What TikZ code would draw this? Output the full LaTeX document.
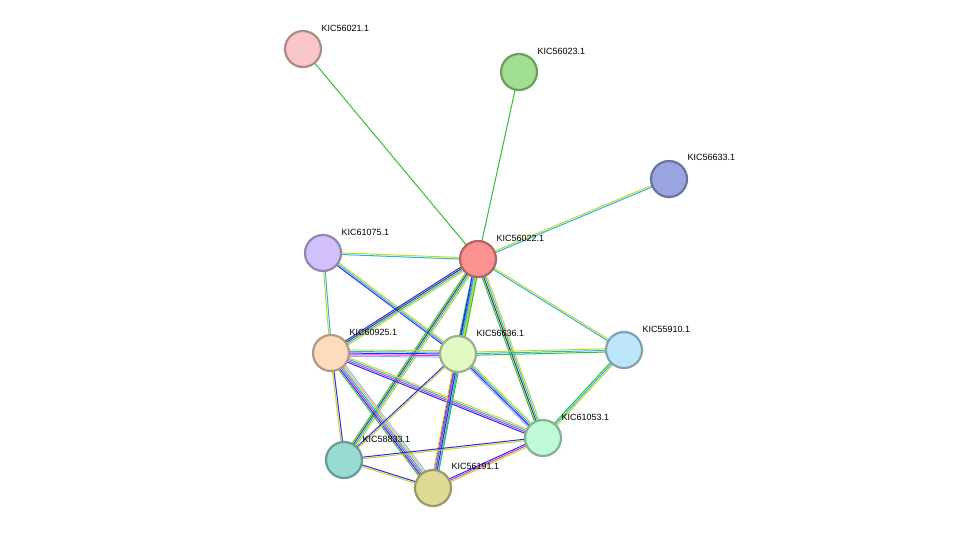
\documentclass[tikz,border=0pt]{standalone}
\usepackage{fontspec}
\setmainfont{Liberation Sans}
\usetikzlibrary{calc,backgrounds}
\definecolor{tm}{RGB}{195,215,40}
\definecolor{db}{RGB}{40,180,225}
\definecolor{co}{RGB}{40,40,240}
\definecolor{ex}{RGB}{215,50,215}
\definecolor{hm}{RGB}{165,165,250}
\definecolor{nb}{RGB}{50,190,50}
\definecolor{cx}{RGB}{60,60,60}
\newcommand\medge[4]{%
  \foreach \cc [count=\ii] in {#4}{%
    \pgfmathsetmacro\off{(\ii-(#3+1)/2)*1.6}
    \draw[line width=1pt,\cc] ($(#1.center)!\off pt!90:(#2.center)$) -- ($(#2.center)!\off pt!-90:(#1.center)$);
  }}
\begin{document}
\begin{tikzpicture}[x=1pt,y=-1pt,
  prot/.style={circle,minimum size=36pt,inner sep=0pt,line width=2.2pt,draw=#1!70!black,fill=#1},
  lab/.style={font=\fontsize{9}{10}\selectfont,anchor=west}]
\useasboundingbox (0,0) rectangle (976,533);
\definecolor{c1}{RGB}{248,198,198}\definecolor{c2}{RGB}{160,222,144}
\definecolor{c3}{RGB}{155,165,225}\definecolor{c4}{RGB}{210,192,250}
\definecolor{c5}{RGB}{252,145,145}\definecolor{c6}{RGB}{253,220,190}
\definecolor{c7}{RGB}{225,250,195}\definecolor{c8}{RGB}{190,230,250}
\definecolor{c9}{RGB}{190,250,215}\definecolor{c10}{RGB}{150,220,210}
\definecolor{c11}{RGB}{222,218,150}
\node[prot=c1] (a) at (303,49) {}; \node[lab] at (318,28) {KIC56021.1};
\node[prot=c2] (b) at (519,72) {}; \node[lab] at (534,51) {KIC56023.1};
\node[prot=c3] (c) at (669,179) {}; \node[lab] at (684,157) {KIC56633.1};
\node[prot=c4] (d) at (323,253) {}; \node[lab] at (338,232) {KIC61075.1};
\node[prot=c5] (e) at (478,259) {}; \node[lab] at (493,238) {KIC56022.1};
\node[prot=c6] (f) at (331,353) {}; \node[lab] at (346,332) {KIC60925.1};
\node[prot=c7] (g) at (458,354) {}; \node[lab] at (473,333) {KIC56636.1};
\node[prot=c8] (h) at (624,350) {}; \node[lab] at (639,329) {KIC55910.1};
\node[prot=c9] (i) at (543,438) {}; \node[lab] at (558,417) {KIC61053.1};
\node[prot=c10] (j) at (344,460) {}; \node[lab] at (359,439) {KIC58833.1};
\node[prot=c11] (k) at (433,488) {}; \node[lab] at (448,466) {KIC56191.1};
\begin{scope}[on background layer]
\medge{a}{e}{1}{nb}
\medge{b}{e}{1}{nb}
\medge{c}{e}{2}{tm,db}
\medge{d}{e}{2}{db,tm}
\medge{d}{g}{3}{co,db,tm}
\medge{d}{f}{2}{tm,db}
\medge{e}{f}{4}{co,cx,db,tm}
\medge{e}{g}{4}{nb,co,db,tm}
\medge{e}{j}{4}{nb,cx,db,tm}
\medge{e}{k}{4}{co,db,tm,nb}
\medge{e}{i}{4}{nb,cx,db,tm}
\medge{e}{h}{2}{db,tm}
\medge{f}{g}{5}{hm,ex,co,db,tm}
\medge{g}{h}{3}{nb,db,tm}
\medge{f}{i}{4}{co,ex,db,tm}
\medge{f}{j}{2}{tm,co}
\medge{f}{k}{6}{nb,co,ex,db,tm,hm}
\medge{g}{j}{2}{co,tm}
\medge{g}{k}{4}{tm,ex,co,db}
\medge{g}{i}{4}{hm,co,db,tm}
\medge{h}{i}{3}{nb,db,tm}
\medge{j}{i}{2}{tm,co}
\medge{j}{k}{2}{tm,co}
\medge{k}{i}{3}{tm,ex,co}
\end{scope}
\end{tikzpicture}
\end{document}
